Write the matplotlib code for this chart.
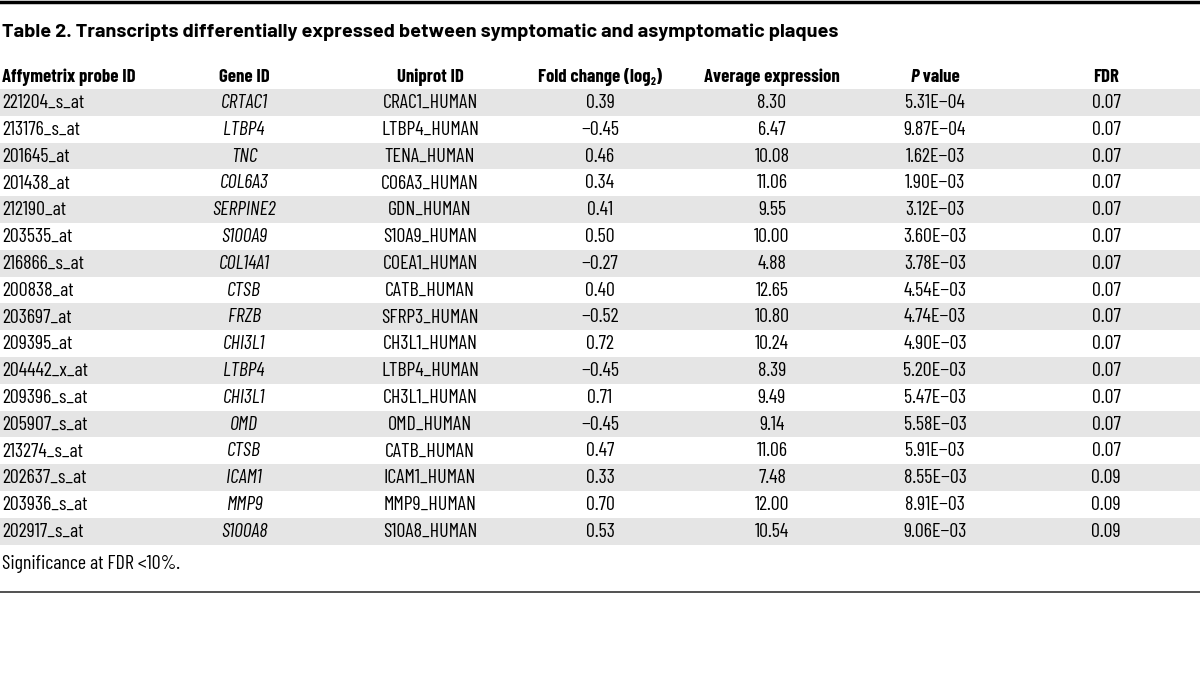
import matplotlib
matplotlib.use('Agg')
import matplotlib.pyplot as plt

# Table content
probe_ids = ['221204_s_at', '213176_s_at', '201645_at', '201438_at', '212190_at',
             '203535_at', '216866_s_at', '200838_at', '203697_at', '209395_at',
             '204442_x_at', '209396_s_at', '205907_s_at', '213274_s_at',
             '202637_s_at', '203936_s_at', '202917_s_at']
gene_ids = ['CRTAC1', 'LTBP4', 'TNC', 'COL6A3', 'SERPINE2', 'S100A9', 'COL14A1',
            'CTSB', 'FRZB', 'CHI3L1', 'LTBP4', 'CHI3L1', 'OMD', 'CTSB', 'ICAM1',
            'MMP9', 'S100A8']
uniprot_ids = ['CRAC1_HUMAN', 'LTBP4_HUMAN', 'TENA_HUMAN', 'CO6A3_HUMAN', 'GDN_HUMAN',
               'S10A9_HUMAN', 'COEA1_HUMAN', 'CATB_HUMAN', 'SFRP3_HUMAN', 'CH3L1_HUMAN',
               'LTBP4_HUMAN', 'CH3L1_HUMAN', 'OMD_HUMAN', 'CATB_HUMAN', 'ICAM1_HUMAN',
               'MMP9_HUMAN', 'S10A8_HUMAN']
fold_change = [0.39, -0.45, 0.46, 0.34, 0.41, 0.50, -0.27, 0.40, -0.52, 0.72,
               -0.45, 0.71, -0.45, 0.47, 0.33, 0.70, 0.53]
avg_expr = [8.30, 6.47, 10.08, 11.06, 9.55, 10.00, 4.88, 12.65, 10.80, 10.24,
            8.39, 9.49, 9.14, 11.06, 7.48, 12.00, 10.54]
p_values = [5.31e-4, 9.87e-4, 1.62e-3, 1.90e-3, 3.12e-3, 3.60e-3, 3.78e-3, 4.54e-3,
            4.74e-3, 4.90e-3, 5.20e-3, 5.47e-3, 5.58e-3, 5.91e-3, 8.55e-3, 8.91e-3,
            9.06e-3]
fdr = [0.07] * 14 + [0.09] * 3

title = 'Table 2. Transcripts differentially expressed between symptomatic and asymptomatic plaques'
footnote = 'Significance at FDR <10%.'

body_fam = ['Barlow Condensed', 'Barlow Semi Condensed', 'DejaVu Sans']
title_fam = ['Barlow', 'Barlow Semi Condensed', 'DejaVu Sans']
plt.rcParams['font.family'] = body_fam


def fmt_num(v):
    return f'{v:.2f}'.replace('-', '\u2212')


def fmt_p(v):
    mant, exp = f'{v:.2E}'.split('E')
    return f'{mant}E\u2212{exp[1:]}'


fig = plt.figure(figsize=(12, 6.81), dpi=100)
ax = fig.add_axes([0, 0, 1, 1])
ax.set_xlim(0, 1200)
ax.set_ylim(681, 0)
ax.axis('off')

fs = 14.4
hfs = 13.5
band_color = '#e5e5e5'
row_top = 89
row_h = 26.8
head_base = 82

# top and bottom rules
ax.axhline(1.5, color='black', lw=2.5)
ax.axhline(592, color='#333333', lw=1.2)

ax.text(2, 37, title, fontsize=14.3, fontweight='bold', va='baseline', ha='left',
        family=title_fam)

# column centers
col_x = [2, 244, 430, 600, 772, 935, 1106]
headers = ['Affymetrix probe ID', 'Gene ID', 'Uniprot ID', None,
           'Average expression', None, 'FDR']
for i, h in enumerate(headers):
    if h is not None:
        ax.text(col_x[i], head_base, h, fontsize=hfs, fontweight='bold', va='baseline',
                ha='left' if i == 0 else 'center')

fig.canvas.draw()
r = fig.canvas.get_renderer()


def draw_pieces(xc, y, parts):
    # parts: (text, size, dy, style)
    widths = []
    for txt, s, dy, st in parts:
        t = ax.text(0, 0, txt, fontsize=s, fontweight='bold', style=st)
        widths.append(t.get_window_extent(r).width)
        t.remove()
    x = xc - sum(widths) / 2
    for (txt, s, dy, st), w in zip(parts, widths):
        ax.text(x, y + dy, txt, fontsize=s, fontweight='bold', style=st,
                va='baseline', ha='left')
        x += w


# Fold change (log2) with subscript
draw_pieces(col_x[3], head_base, [('Fold change (log', hfs, 0, 'normal'),
                                  ('2', hfs * 0.6, 3, 'normal'),
                                  (')', hfs, 0, 'normal')])
# P value with italic P
draw_pieces(col_x[5], head_base, [('P', hfs, 0, 'italic'), (' value', hfs, 0, 'normal')])

for k in range(len(probe_ids)):
    y0 = row_top + k * row_h
    if k % 2 == 0:
        ax.axhspan(y0, y0 + row_h, color=band_color, lw=0, zorder=0)
    yb = y0 + 19
    cells = [probe_ids[k], gene_ids[k], uniprot_ids[k], fmt_num(fold_change[k]),
             fmt_num(avg_expr[k]), fmt_p(p_values[k]), fmt_num(fdr[k])]
    for i, c in enumerate(cells):
        ax.text(col_x[i], yb, c, fontsize=fs, va='baseline',
                ha='left' if i == 0 else 'center',
                style='italic' if i == 1 else 'normal')

ax.text(2, 569, footnote, fontsize=fs, va='baseline', ha='left')

fig.savefig('out.png', dpi=100)
